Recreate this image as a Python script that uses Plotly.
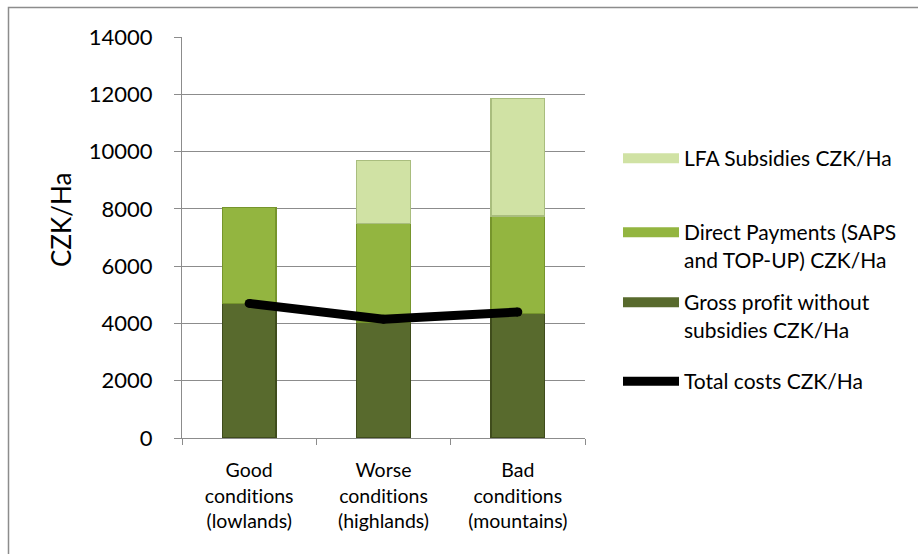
import plotly.graph_objects as go

# Farm economics per hectare by natural conditions
categories = [
    "Good<br>conditions<br>(lowlands)",
    "Worse<br>conditions<br>(highlands)",
    "Bad<br>conditions<br>(mountains)",
]
gross_profit = [4700, 4050, 4350]
direct_payments = [3350, 3450, 3400]
lfa_subsidies = [None, 2200, 4100]
total_costs = [4700, 4150, 4400]

y_ticks = [0, 2000, 4000, 6000, 8000, 10000, 12000, 14000]

names = {
    "lfa": "LFA Subsidies CZK/Ha",
    "dp": "Direct Payments (SAPS<br>and TOP-UP) CZK/Ha",
    "gp": "Gross profit without<br>subsidies CZK/Ha",
    "tc": "Total costs CZK/Ha",
}

c_gp, c_dp, c_lfa = "#586a2d", "#93b540", "#d0e2a4"
e_gp, e_dp, e_lfa = "#3f4c1c", "#76952c", "#a9bd7e"

FONT = "Lato, 'Open Sans', sans-serif"
W, H = 918, 554
ML, MR, MT, MB = 182, 333, 37, 116
PW, PH = W - ML - MR, H - MT - MB


def px_x(p):
    return (p - ML) / PW


def px_y(p):
    return (H - MB - p) / PH


fig = go.Figure()

bar_kw = dict(width=0.40, showlegend=False, hoverinfo="skip")
fig.add_trace(go.Bar(x=categories, y=gross_profit, marker=dict(color=c_gp, line=dict(color=e_gp, width=1.2)), **bar_kw))
fig.add_trace(go.Bar(x=categories, y=direct_payments, marker=dict(color=c_dp, line=dict(color=e_dp, width=1.2)), **bar_kw))
fig.add_trace(go.Bar(x=categories, y=lfa_subsidies, marker=dict(color=c_lfa, line=dict(color=e_lfa, width=1.2)), **bar_kw))

fig.add_trace(go.Scatter(
    x=categories, y=total_costs, mode="lines+markers",
    line=dict(color="black", width=9),
    marker=dict(color="black", size=9),
    showlegend=False, hoverinfo="skip",
))

# legend entries, each in its own legend box
legend_items = [
    ("legend", names["lfa"], c_lfa, 138),
    ("legend2", names["dp"], c_dp, 212),
    ("legend3", names["gp"], c_gp, 282),
    ("legend4", names["tc"], "black", 361),
]
for leg, nm, col, _ in legend_items:
    fig.add_trace(go.Scatter(
        x=[None], y=[None], mode="lines", name=nm,
        line=dict(color=col, width=12 if leg != "legend4" else 9),
        legend=leg,
    ))

leg_common = dict(
    bgcolor="rgba(0,0,0,0)", font=dict(family=FONT, size=21, color="black"),
    itemwidth=56, valign="top", xanchor="left", yanchor="top",
)
layout_legends = {}
for leg, nm, col, top in legend_items:
    layout_legends[leg] = dict(x=px_x(618), y=px_y(top), **leg_common)

fig.update_layout(
    width=W, height=H,
    margin=dict(l=ML, r=MR, t=MT, b=MB),
    paper_bgcolor="white", plot_bgcolor="white",
    barmode="stack", bargap=0.60,
    font=dict(family=FONT, color="black"),
    xaxis=dict(
        showline=True, linecolor="#8c8c8c", linewidth=1,
        ticks="outside", tickson="boundaries", ticklen=6, tickcolor="#8c8c8c",
        tickfont=dict(size=19.5), showgrid=False, ticklabelstandoff=15,
    ),
    yaxis=dict(
        range=[0, 14000], tickvals=y_ticks, tickformat="d", showline=True,
        linecolor="#8c8c8c", ticks="outside", ticklen=7, tickcolor="#8c8c8c",
        showgrid=True, gridcolor="#8c8c8c", gridwidth=1,
        tickfont=dict(size=22), zeroline=False, ticklabelstandoff=17,
    ),
    annotations=[dict(
        text="CZK/Ha", textangle=-90, xref="paper", yref="paper",
        x=px_x(61), y=px_y(220), xanchor="center", yanchor="middle",
        showarrow=False, font=dict(size=26, family=FONT, color="black"),
    )],
    shapes=[dict(
        type="rect", xref="paper", yref="paper",
        x0=px_x(8.5), x1=px_x(940), y0=px_y(580), y1=px_y(7.5),
        line=dict(color="#8c8c8c", width=1.5), layer="below",
    )],
    **layout_legends,
)

# plain letter pairs (no "ti"/"fi" ligatures) in all chart text
no_liga = (
    "var s=document.createElement('style');"
    "s.textContent='.main-svg text{font-variant-ligatures:none;font-feature-settings:\"liga\" 0, \"clig\" 0;}';"
    "document.head.appendChild(s);"
)

fig.write_html("out.html", post_script=no_liga)
